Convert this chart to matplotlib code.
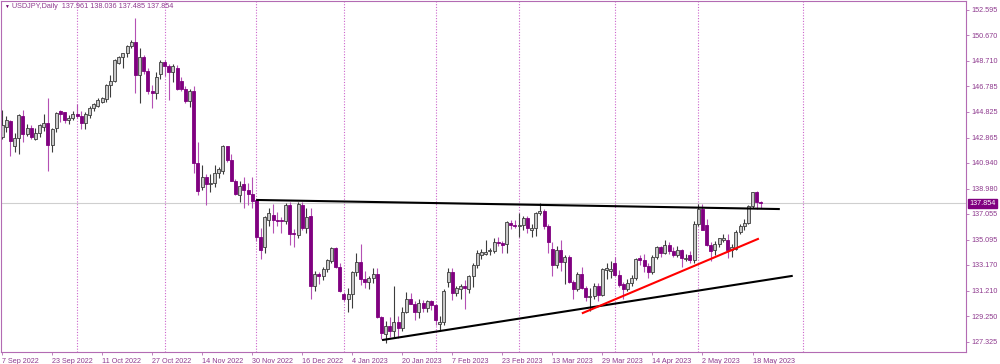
import numpy as np
import matplotlib
matplotlib.use('Agg')
import matplotlib.pyplot as plt

plt.rcParams['font.family'] = ['Liberation Sans', 'DejaVu Sans']

# USDJPY daily candles, 7 Sep 2022 .. 22 May 2023 (one entry per bar)
opens = [142.9, 143.7, 144.15, 142.2, 142.85, 144.55, 143.15, 143.6, 142.8, 143.2,
         143.7, 144.0, 142.3, 143.6, 144.9, 144.8, 144.2, 144.4, 144.7, 144.5,
         144.0, 144.6, 145.15, 145.3, 145.55, 145.8, 146.9, 147.15, 148.55, 149.05,
         149.3, 149.85, 150.15, 147.65, 149.0, 147.95, 146.4, 146.25, 147.75, 148.65,
         148.3, 147.9, 148.2, 147.2, 146.55, 145.66, 146.45, 140.97, 139.1, 139.9,
         139.35, 139.45, 140.2, 140.3, 142.2, 141.2, 139.6, 138.5, 139.3, 138.9,
         138.6, 138.1, 135.3, 134.5, 136.6, 137.0, 136.6, 136.6, 136.5, 137.75,
         135.6, 135.45, 137.75, 135.95, 136.9, 131.6, 132.45, 132.3, 132.85, 133.5,
         134.45, 133.05, 130.95, 130.6, 130.95, 132.6, 133.4, 132.1, 131.9, 132.2,
         132.45, 129.2, 127.9, 128.55, 128.1, 128.85, 128.4, 129.6, 130.6, 130.2,
         129.6, 130.25, 129.9, 130.4, 130.1, 128.65, 128.85, 131.9, 132.6, 131.05,
         131.35, 131.6, 131.3, 132.3, 133.15, 133.95, 134.0, 134.2, 134.25, 134.95,
         134.85, 134.8, 136.4, 136.2, 136.1, 136.2, 136.75, 135.85, 135.95, 137.15,
         137.3, 136.1, 134.4, 133.2, 134.3, 133.4, 133.8, 131.85, 131.3, 132.5,
         131.4, 130.75, 130.8, 131.6, 130.9, 132.75, 132.7, 133.3, 132.4, 131.7,
         131.3, 131.8, 132.15, 133.7, 133.55, 133.1, 132.6, 133.8, 134.5, 134.1,
         134.7, 134.2, 133.95, 134.3, 133.65, 133.95, 133.55, 136.3, 137.4, 136.2,
         134.7, 134.3, 134.8, 135.1, 135.1, 134.3, 134.4, 135.7, 136.1, 136.4,
         137.65, 138.7, 137.961]
highs = [144.99, 144.5, 144.2, 143.2, 144.7, 145.0, 143.9, 143.8, 143.6, 143.9,
         144.7, 145.9, 143.6, 144.8, 144.95, 144.85, 144.6, 144.9, 145.4, 144.9,
         144.8, 145.3, 145.5, 145.9, 146.0, 146.95, 147.65, 148.85, 149.1, 149.35,
         149.9, 150.3, 151.95, 149.7, 149.2, 148.2, 146.9, 147.9, 148.8, 148.8,
         148.5, 148.45, 148.4, 147.5, 146.8, 146.6, 146.8, 142.5, 140.8, 140.1,
         140.1, 140.8, 140.6, 142.3, 142.25, 141.6, 139.7, 139.6, 139.9, 139.4,
         139.9, 138.2, 135.95, 136.9, 137.5, 137.85, 137.2, 136.8, 137.9, 138.0,
         135.9, 138.0, 137.95, 137.5, 137.5, 132.7, 132.6, 133.0, 133.6, 134.5,
         134.55, 133.3, 131.1, 131.4, 132.7, 134.05, 134.8, 132.7, 132.3, 132.9,
         132.9, 129.3, 128.9, 129.2, 131.6, 129.3, 129.95, 131.1, 131.0, 130.4,
         130.6, 130.5, 130.5, 130.5, 130.2, 129.3, 131.3, 132.9, 132.9, 131.6,
         131.7, 132.0, 132.4, 133.3, 134.3, 134.4, 135.1, 134.45, 135.2, 135.3,
         135.0, 136.5, 136.6, 136.6, 137.1, 136.9, 136.9, 136.3, 137.2, 137.9,
         137.45, 136.3, 134.9, 134.6, 135.1, 133.9, 133.9, 132.0, 132.6, 133.0,
         131.55, 131.4, 131.8, 131.8, 132.9, 133.3, 133.5, 133.75, 132.8, 131.9,
         132.1, 132.4, 133.7, 133.9, 134.0, 133.3, 133.9, 134.6, 134.6, 135.1,
         134.95, 134.5, 134.6, 134.4, 134.0, 134.2, 136.55, 137.8, 137.8, 136.7,
         134.9, 135.0, 135.2, 135.5, 135.5, 134.8, 135.8, 136.3, 136.7, 137.7,
         138.75, 138.8, 138.036]
lows = [142.75, 143.3, 141.5, 141.8, 141.6, 142.55, 143.0, 142.8, 142.7, 142.9,
        143.4, 140.35, 141.8, 143.3, 144.05, 144.0, 143.9, 144.2, 144.4, 143.5,
        143.5, 144.4, 144.9, 145.2, 145.5, 145.6, 146.0, 147.1, 148.5, 148.2,
        149.0, 149.7, 146.25, 145.5, 147.7, 146.2, 145.1, 145.8, 147.3, 147.6,
        145.7, 147.1, 146.5, 146.4, 145.5, 145.2, 140.2, 138.5, 138.9, 137.7,
        138.75, 139.1, 139.8, 140.1, 141.0, 139.6, 138.5, 138.0, 137.5, 137.7,
        137.5, 135.0, 133.65, 134.1, 136.1, 135.6, 136.1, 135.6, 136.3, 134.7,
        134.5, 135.2, 135.8, 135.6, 130.6, 131.2, 131.7, 132.0, 132.6, 133.3,
        132.9, 131.1, 130.4, 129.55, 129.9, 132.3, 131.65, 131.4, 131.3, 131.8,
        129.1, 127.5, 127.25, 127.7, 127.7, 127.6, 128.1, 129.5, 130.2, 129.0,
        129.1, 129.6, 129.6, 129.7, 128.6, 128.1, 128.6, 131.5, 130.5, 130.8,
        130.6, 129.8, 131.0, 131.5, 132.9, 133.6, 133.9, 133.9, 134.1, 134.6,
        134.1, 134.1, 135.9, 135.95, 135.3, 135.8, 135.6, 135.3, 135.4, 137.0,
        135.9, 134.1, 132.3, 132.9, 132.7, 131.7, 131.8, 130.55, 131.2, 131.3,
        130.4, 129.65, 130.6, 130.4, 130.8, 132.1, 132.2, 132.3, 131.5, 130.6,
        131.2, 131.6, 132.0, 133.2, 132.6, 132.2, 132.5, 133.6, 133.8, 134.0,
        134.0, 133.8, 133.8, 133.0, 133.5, 133.3, 133.3, 136.1, 136.3, 134.6,
        133.5, 133.9, 134.5, 134.9, 133.7, 133.8, 134.3, 135.5, 135.8, 136.3,
        137.5, 137.4, 137.485]
closes = [143.8, 144.2, 142.65, 142.85, 144.6, 143.15, 143.6, 142.95, 143.2, 143.8,
          144.0, 142.3, 143.55, 144.75, 144.7, 144.2, 144.4, 144.7, 144.55, 144.0,
          144.7, 145.15, 145.4, 145.7, 145.9, 146.9, 147.2, 148.75, 149.05, 149.3,
          149.85, 150.15, 147.65, 149.0, 147.95, 146.4, 146.25, 147.5, 148.65, 148.3,
          147.9, 148.3, 146.6, 146.55, 145.66, 146.45, 140.97, 138.8, 139.9, 139.3,
          139.45, 140.2, 140.45, 142.2, 141.2, 139.6, 138.6, 139.2, 138.9, 138.6,
          138.05, 135.3, 134.3, 136.85, 137.1, 136.6, 136.55, 136.5, 137.75, 135.55,
          135.5, 137.8, 135.95, 136.85, 131.6, 132.45, 132.35, 132.85, 133.55, 134.45,
          133.05, 131.15, 130.55, 130.95, 132.6, 133.4, 132.1, 131.9, 132.2, 132.45,
          129.2, 127.95, 128.55, 128.1, 128.85, 128.4, 129.6, 130.6, 130.2, 129.6,
          130.25, 129.9, 130.4, 130.1, 128.95, 128.85, 131.2, 132.6, 131.05, 131.4,
          131.6, 131.4, 132.3, 133.15, 134.1, 134.15, 134.18, 134.3, 134.95, 134.85,
          134.7, 136.45, 136.2, 136.15, 136.2, 136.75, 135.95, 135.95, 137.15, 137.3,
          136.1, 134.95, 133.2, 134.3, 133.4, 133.8, 131.85, 131.3, 132.5, 131.4,
          130.75, 130.8, 131.6, 130.9, 132.85, 132.9, 132.85, 132.4, 131.65, 131.3,
          131.8, 132.2, 133.6, 133.55, 133.1, 132.6, 133.8, 134.5, 134.1, 134.7,
          134.2, 133.95, 134.3, 133.7, 133.7, 133.55, 136.3, 137.4, 135.85, 134.7,
          134.2, 134.8, 135.2, 135.25, 134.3, 134.5, 135.7, 136.1, 136.4, 137.65,
          138.7, 137.98, 137.854]

date_labels = ['7 Sep 2022', '23 Sep 2022', '11 Oct 2022', '27 Oct 2022', '14 Nov 2022',
               '30 Nov 2022', '16 Dec 2022', '4 Jan 2023', '20 Jan 2023', '7 Feb 2023',
               '23 Feb 2023', '13 Mar 2023', '29 Mar 2023', '14 Apr 2023', '2 May 2023',
               '18 May 2023']
label_step = 12
# first bar of each month (period separators)
month_starts = [18, 39, 61, 82, 104, 124, 147, 167, 192]
price_ticks = [152.595, 150.670, 148.710, 146.785, 144.825, 142.865, 140.940, 138.980,
               137.055, 135.095, 133.170, 131.210, 129.250, 127.325]
last_bid = 137.854
header = 'USDJPY,Daily  137.961 138.036 137.485 137.854'

# trend lines drawn on the chart: (bar index pair, price pair)
upper_line = ([61.2, 186.3], [138.12, 137.43])
lower_line = ([91.4, 189.4], [127.46, 132.33])
red_line = ([139.3, 181.3], [129.51, 135.15])

frame_col = '#b36bb3'
text_col = '#8e3a8e'
bull_fill = '#c8c8c8'
bull_edge = '#3c3c3c'
bear_col = '#800080'

fig = plt.figure(figsize=(10, 3.64), dpi=100)
ax = fig.add_axes([0.001, 0.033, 0.965, 0.9643])

o = np.array(opens)
h = np.array(highs)
l = np.array(lows)
c = np.array(closes)
x = np.arange(len(o))
up = c >= o
bottom = np.minimum(o, c)
body = np.maximum(np.abs(c - o), 0.05)

for m in month_starts:
    ax.axvline(m, color='#cc66cc', lw=0.8, ls=(0, (1, 1.5)), zorder=0)
ax.axhline(last_bid, color='#cfcfcf', lw=0.8, zorder=0)

ax.vlines(x[up], l[up], h[up], color=bull_edge, lw=0.8, zorder=1)
ax.vlines(x[~up], l[~up], h[~up], color='#b450b4', lw=0.8, zorder=1)
ax.bar(x[up], body[up], bottom=bottom[up], width=0.72, color=bull_fill,
       edgecolor=bull_edge, linewidth=0.6, zorder=2)
ax.bar(x[~up], body[~up], bottom=bottom[~up], width=0.72, color=bear_col,
       edgecolor=bear_col, linewidth=0.6, zorder=2)

ax.plot(*upper_line, color='black', lw=1.5, zorder=3)
ax.plot(*lower_line, color='black', lw=1.5, zorder=3)
ax.plot(*red_line, color='#ff0000', lw=1.5, zorder=3)

ax.set_xlim(-0.24, 231.2)
ax.set_ylim(126.539, 153.281)

for s in ax.spines.values():
    s.set_color(frame_col)
    s.set_linewidth(0.8)

ax.yaxis.tick_right()
ax.set_yticks(price_ticks)
ax.set_yticklabels([f'{p:.3f}' for p in price_ticks])
ax.set_xticks(np.arange(len(date_labels)) * label_step)
ax.set_xticklabels(date_labels, ha='left')
ax.tick_params(axis='both', direction='out', length=2.5, width=0.6, color=frame_col,
               labelsize=5.2, labelcolor=text_col, pad=1.5)

ax.annotate(f'{last_bid:.3f}', xy=(1, last_bid), xycoords=('axes fraction', 'data'),
            xytext=(2.5, 0), textcoords='offset points', va='center', ha='left',
            fontsize=5.2, color='white',
            bbox=dict(boxstyle='square,pad=0.15', fc=bear_col, ec=bear_col))

ax.text(0.003, 0.992, '\u25bc', transform=ax.transAxes, va='top', ha='left',
        fontsize=3.5, color='#6a006a')
ax.text(0.011, 0.993, header, transform=ax.transAxes, va='top', ha='left',
        fontsize=5.2, color=text_col)

fig.savefig('out.png', dpi=100)
